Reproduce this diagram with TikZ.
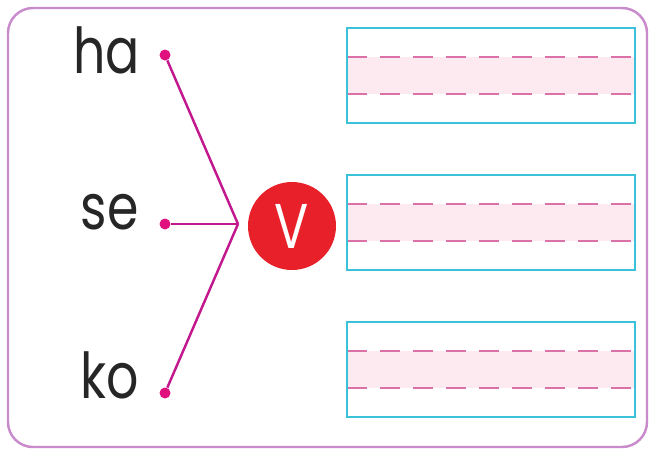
\documentclass[tikz,border=0pt]{standalone}
\usepackage{fontspec}
\setmainfont{Poppins}
\newfontfamily\slimfont[FakeStretch=0.8]{Poppins}
\usetikzlibrary{positioning}

\definecolor{framepink}{HTML}{C98BCB}
\definecolor{linemag}{HTML}{C2188E}
\definecolor{dotmag}{HTML}{E0117F}
\definecolor{ballred}{HTML}{E8202A}
\definecolor{boxcyan}{HTML}{3CC2D8}
\definecolor{dashpink}{HTML}{DA72A8}
\definecolor{bandpink}{HTML}{FDEAF1}

\tikzset{
    word/.style = {anchor=base east, inner sep=0pt, text=black!85,
        font=\slimfont\fontsize{36}{36}\selectfont},
    pin/.style = {circle, fill=dotmag, inner sep=0pt, minimum size=0.22cm},
    wire/.style = {linemag, line width=1.4pt},
    writebox/.style = {draw=boxcyan, line width=1.4pt},
    guide/.style = {dashpink, line width=1.5pt, dash pattern=on 0.4cm off 0.26cm}
}

\begin{document}
\begin{tikzpicture}[x=0.02cm, y=-0.02cm]
\useasboundingbox (0,0) rectangle (655,451);
\draw[framepink, line width=1.4pt, rounded corners=0.5cm] (8,8) rectangle (647,447);

% words and their dots
\node[word] (ha) at (140,73) {ha};
\node[word] (se) at (139,229) {se};
\node[word] (ko) at (139,398) {ko};
\node[pin] (pha) at (165,55) {};
\node[pin] (pse) at (165,224) {};
\node[pin] (pko) at (165,393) {};

\coordinate (join) at (238,224);
\draw[wire] (pha) -- (join);
\draw[wire] (pse) -- (join);
\draw[wire] (pko) -- (join);

% the letter
\node[circle, fill=ballred, minimum size=1.76cm, inner sep=0pt, text=white,
    font=\slimfont\fontsize{36}{36}\selectfont] (ball) at (292,226) {V};

% writing boxes
\foreach \t/\nm in {28/top, 175/mid, 322/low} {
    \fill[bandpink] (347,\t+29) rectangle (635,\t+66);
    \draw[guide] (347,\t+29) -- (635,\t+29);
    \draw[guide] (347,\t+66) -- (635,\t+66);
    \draw[writebox] (347,\t) rectangle (635,\t+95);
}
\end{tikzpicture}
\end{document}
